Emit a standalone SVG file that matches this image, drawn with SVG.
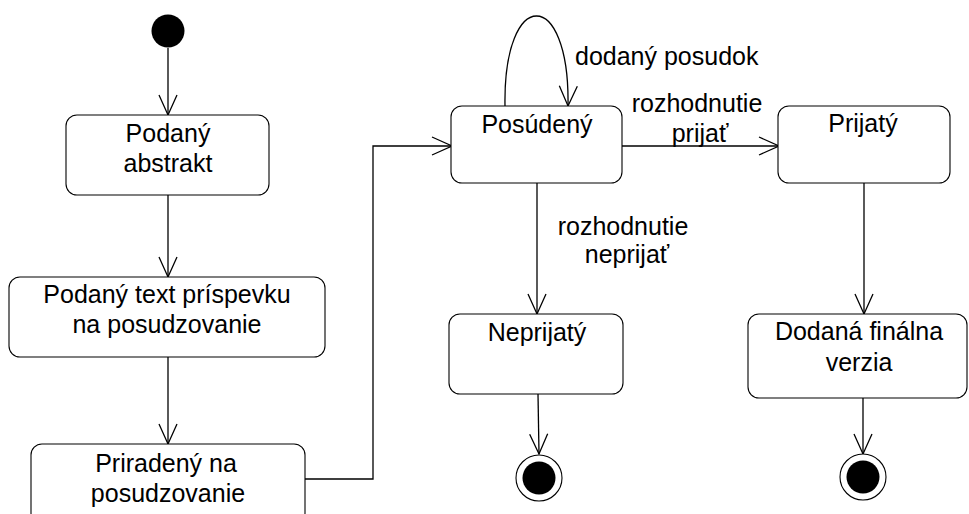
<svg xmlns="http://www.w3.org/2000/svg" width="969" height="514" viewBox="0 0 969 514">
  <defs>
    <marker id="open" viewBox="-22 -11 24 22" markerWidth="24" markerHeight="22" refX="0" refY="0" orient="auto" markerUnits="userSpaceOnUse">
      <path d="M-20,-9 L0,0 L-20,9" fill="none" stroke="#000" stroke-width="1.3"/>
    </marker>
  </defs>
  <style>
    .state { fill: #fff; stroke: #000; stroke-width: 1.1; }
    .lbl { font-family: "Liberation Sans", Arial, sans-serif; font-size: 25px; fill: #000; text-anchor: middle; }
    .edge { fill: none; stroke: #000; stroke-width: 1.3; marker-end: url(#open); }
    .final-ring { fill: #fff; stroke: #000; stroke-width: 1.1; }
  </style>
  <rect width="969" height="514" fill="#fff"/>

  <g id="connectors">
    <line class="edge" x1="168" y1="48" x2="168" y2="115"/>
    <line class="edge" x1="168" y1="195" x2="168" y2="277"/>
    <line class="edge" x1="168" y1="357" x2="168" y2="444"/>
    <polyline class="edge" points="305,479 373,479 373,146 452,146"/>
    <path class="edge" d="M505,106 C503,-14 570,-14 568,106"/>
    <line class="edge" x1="622" y1="146" x2="779" y2="146"/>
    <line class="edge" x1="537" y1="183" x2="537" y2="314"/>
    <line class="edge" x1="864" y1="183" x2="864" y2="314"/>
    <line class="edge" x1="538" y1="394" x2="539" y2="454"/>
    <line class="edge" x1="863" y1="398" x2="863" y2="454"/>
    <text class="lbl" x="575" y="65" style="text-anchor:start">dodaný posudok</text>
    <text class="lbl" x="697" y="112">rozhodnutie</text>
    <text class="lbl" x="700" y="142">prijať</text>
    <text class="lbl" x="623" y="235">rozhodnutie</text>
    <text class="lbl" x="627" y="263">neprijať</text>
  </g>

  <g id="initial">
    <circle cx="168" cy="31" r="16.5" fill="#000"/>
  </g>

  <g id="podany-abstrakt">
    <rect class="state" x="66" y="115" width="203" height="80" rx="11"/>
    <text class="lbl" x="168" y="142">Podaný</text>
    <text class="lbl" x="168" y="172">abstrakt</text>
  </g>

  <g id="podany-text">
    <rect class="state" x="9" y="277" width="316" height="80" rx="11"/>
    <text class="lbl" x="167" y="303">Podaný text príspevku</text>
    <text class="lbl" x="167" y="333">na posudzovanie</text>
  </g>

  <g id="priradeny">
    <rect class="state" x="31" y="444" width="274" height="80" rx="11"/>
    <text class="lbl" x="166" y="472">Priradený na</text>
    <text class="lbl" x="168" y="502">posudzovanie</text>
  </g>

  <g id="posudeny">
    <rect class="state" x="451" y="106" width="171" height="77" rx="11"/>
    <text class="lbl" x="537" y="133">Posúdený</text>
  </g>

  <g id="prijaty">
    <rect class="state" x="778" y="106" width="172" height="77" rx="11"/>
    <text class="lbl" x="863" y="132">Prijatý</text>
  </g>

  <g id="neprijaty">
    <rect class="state" x="449" y="314" width="174" height="80" rx="11"/>
    <text class="lbl" x="537" y="341">Neprijatý</text>
  </g>

  <g id="dodana-finalna-verzia">
    <rect class="state" x="748" y="314" width="219" height="84" rx="11"/>
    <text class="lbl" x="859" y="340">Dodaná finálna</text>
    <text class="lbl" x="859" y="371">verzia</text>
  </g>

  <g id="final-1">
    <circle class="final-ring" cx="539" cy="478" r="23"/>
    <circle cx="539" cy="478" r="16.5" fill="#000"/>
  </g>

  <g id="final-2">
    <circle class="final-ring" cx="863" cy="477" r="23"/>
    <circle cx="863" cy="477" r="16.5" fill="#000"/>
  </g>
</svg>
